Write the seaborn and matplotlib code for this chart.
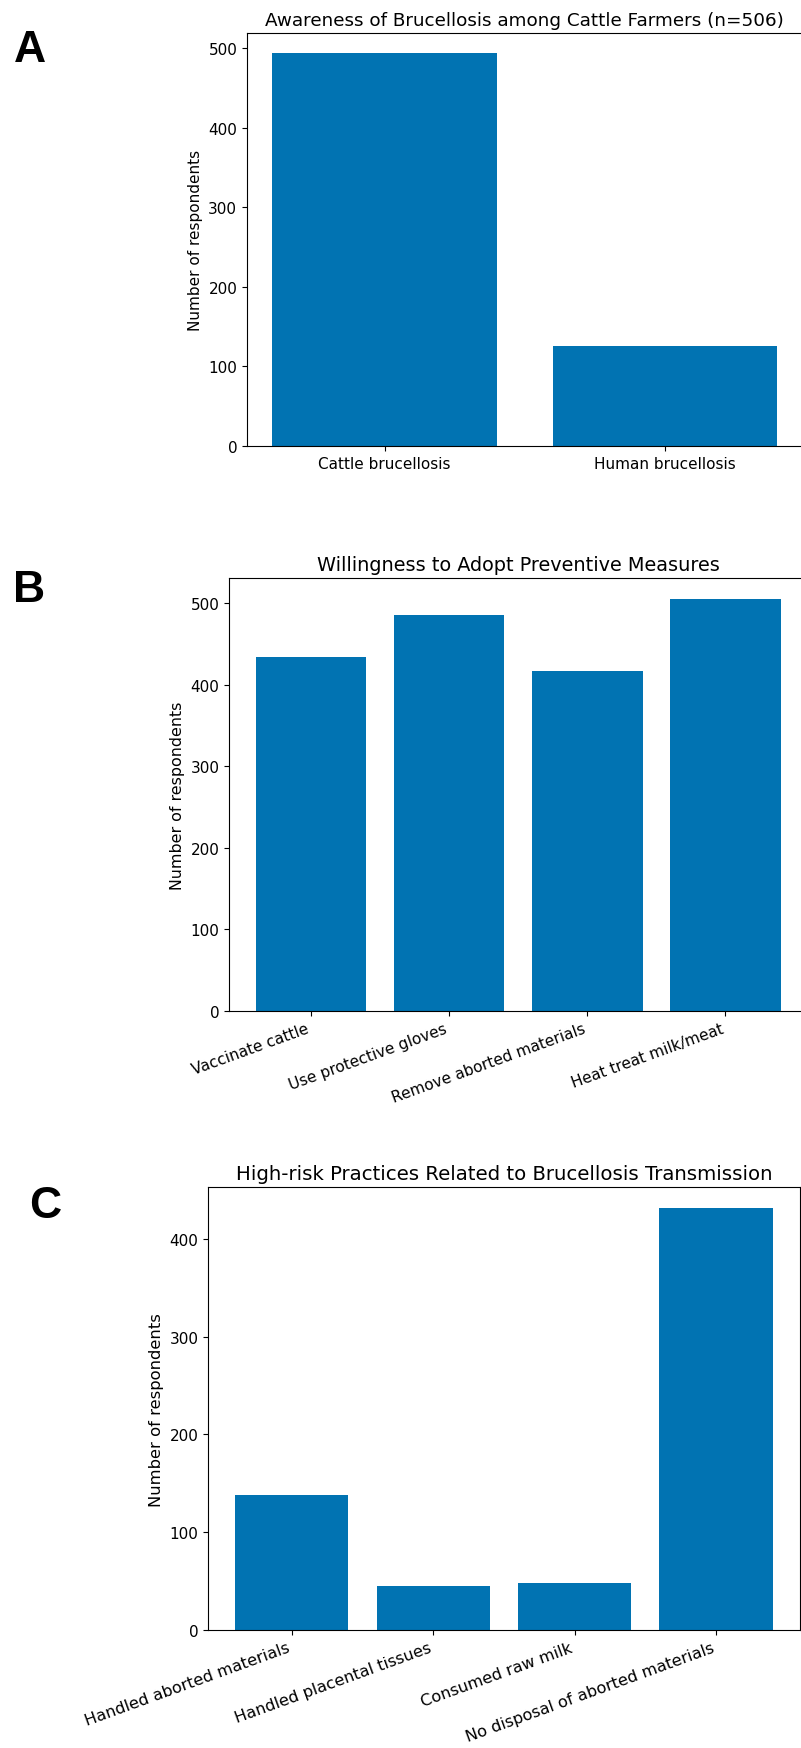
import matplotlib
matplotlib.use("Agg")
import matplotlib.pyplot as plt
import seaborn as sns
import pandas as pd

# ---- data ----
awareness_labels = ["Cattle brucellosis", "Human brucellosis"]
awareness_counts = [494, 125]

willing_labels = ["Vaccinate cattle", "Use protective gloves",
                  "Remove aborted materials", "Heat treat milk/meat"]
willing_counts = [434, 486, 417, 506]

risk_labels = ["Handled aborted materials", "Handled placental tissues",
               "Consumed raw milk", "No disposal of aborted materials"]
risk_counts = [138, 45, 48, 431]

titles = ["Awareness of Brucellosis among Cattle Farmers (n=506)",
          "Willingness to Adopt Preventive Measures",
          "High-risk Practices Related to Brucellosis Transmission"]
panel_letters = ["A", "B", "C"]
ylabel = "Number of respondents"

BAR_COLOR = "#0173b2"

plt.rcParams["font.family"] = ["DejaVu Sans"]
plt.rcParams["font.size"] = 11

W, H = 801, 1749
fig = plt.figure(figsize=(W / 100, H / 100), dpi=100)


def px_axes(left, right, top, bottom):
    return fig.add_axes([left / W, 1 - bottom / H, (right - left) / W, (bottom - top) / H])


boxes = [(247, 802.7, 34, 447),
         (229.3, 807, 579, 1011.7),
         (208.3, 799.5, 1188.3, 1631)]
datasets = [(awareness_labels, awareness_counts, 0),
            (willing_labels, willing_counts, 20),
            (risk_labels, risk_counts, 20)]
# (x tick size, y tick size, ylabel size, title size) per panel
font_sizes = [(11, 11, 11, 13.2), (11.1, 11, 11.4, 13.9), (11.6, 11, 11.8, 14.2)]
letter_pos = [(14, 62.5), (13, 602), (29, 1218)]

for i, ((labels, counts, rot), box) in enumerate(zip(datasets, boxes)):
    ax = px_axes(*box)
    df = pd.DataFrame({"category": labels, "count": counts})
    sns.barplot(data=df, x="category", y="count", color=BAR_COLOR,
                saturation=1, width=0.8, errorbar=None, ax=ax, linewidth=0)
    n = len(labels)
    marg = 0.05 * (n - 0.2)
    ax.set_xlim(-0.4 - marg, n - 1 + 0.4 + marg)
    ax.set_ylim(0, max(counts) * 1.05)
    xsz, ysz, lsz, ttl = font_sizes[i]
    ax.set_xlabel("")
    ax.set_ylabel(ylabel, fontsize=lsz)
    ax.set_title(titles[i], fontsize=ttl)
    ax.tick_params(axis="x", labelsize=xsz)
    ax.tick_params(axis="y", labelsize=ysz)
    if rot:
        plt.setp(ax.get_xticklabels(), rotation=rot, ha="right")
    lx, ly = letter_pos[i]
    fig.text(lx / W, 1 - ly / H, panel_letters[i], fontsize=32, fontweight="bold",
             family=["Liberation Sans", "DejaVu Sans"], ha="left", va="baseline")

fig.savefig("out.png", dpi=100)
